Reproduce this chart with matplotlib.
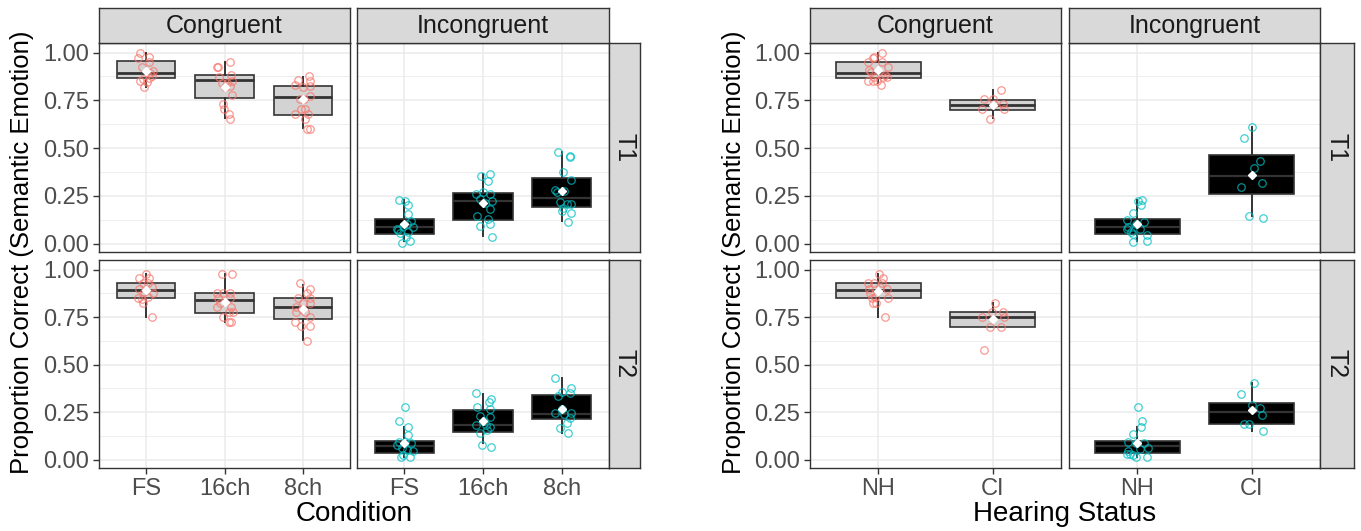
import matplotlib
matplotlib.use("Agg")
import matplotlib.pyplot as plt

plt.rcParams['font.family'] = ['Liberation Sans', 'DejaVu Sans']

W, H = 1361, 531

cond_labels = ["FS", "16ch", "8ch"]
hear_labels = ["NH", "CI"]
col_names = ["Congruent", "Incongruent"]
row_names = ["T1", "T2"]

# box stats per category: whislo, q1, median, q3, whishi
cond_cong_t1_box = [[0.822, 0.869, 0.892, 0.955, 1.0], [0.656, 0.764, 0.855, 0.883, 0.951], [0.606, 0.675, 0.766, 0.827, 0.874]]
cond_incong_t1_box = [[0.014, 0.051, 0.086, 0.131, 0.227], [0.040, 0.122, 0.225, 0.264, 0.363], [0.119, 0.194, 0.237, 0.344, 0.480]]
cond_cong_t2_box = [[0.752, 0.848, 0.890, 0.927, 0.976], [0.726, 0.774, 0.839, 0.878, 0.976], [0.629, 0.741, 0.801, 0.850, 0.921]]
cond_incong_t2_box = [[0.014, 0.035, 0.070, 0.101, 0.175], [0.087, 0.147, 0.185, 0.264, 0.346], [0.140, 0.213, 0.241, 0.341, 0.428]]
hear_cong_t1_box = [[0.843, 0.869, 0.892, 0.953, 1.0], [0.656, 0.700, 0.728, 0.754, 0.803]]
hear_incong_t1_box = [[0.014, 0.049, 0.086, 0.131, 0.227], [0.145, 0.258, 0.354, 0.464, 0.611]]
hear_cong_t2_box = [[0.752, 0.848, 0.890, 0.927, 0.976], [0.699, 0.699, 0.752, 0.776, 0.825]]
hear_incong_t2_box = [[0.014, 0.035, 0.070, 0.101, 0.175], [0.149, 0.187, 0.253, 0.301, 0.402]]

# group means (white diamonds)
cond_cong_t1_mean = [0.905, 0.822, 0.759]
cond_incong_t1_mean = [0.101, 0.211, 0.274]
cond_cong_t2_mean = [0.890, 0.827, 0.790]
cond_incong_t2_mean = [0.087, 0.205, 0.266]
hear_cong_t1_mean = [0.909, 0.724]
hear_incong_t1_mean = [0.101, 0.360]
hear_cong_t2_mean = [0.888, 0.738]
hear_incong_t2_mean = [0.087, 0.263]

# individual scores
cond_cong_t1_pts = [
    [1.0, 0.974, 0.979, 0.951, 0.927, 0.904, 0.895, 0.878, 0.852, 0.86, 0.869, 0.822, 0.846],
    [0.953, 0.927, 0.925, 0.881, 0.874, 0.852, 0.843, 0.825, 0.822, 0.777, 0.729, 0.703, 0.677, 0.651, 0.843],
    [0.880, 0.852, 0.855, 0.825, 0.829, 0.822, 0.775, 0.756, 0.759, 0.703, 0.703, 0.677, 0.677, 0.651, 0.602, 0.602],
]
cond_cong_t1_jit = [
    [-0.077, -0.098, 0.038, 0.038, -0.056, 0.085, 0.051, 0.073, -0.077, -0.043, 0.043, -0.026, 0.009],
    [0.073, -0.098, -0.077, 0.081, -0.064, 0.094, -0.034, 0.064, 0.0, 0.094, -0.021, -0.004, 0.051, 0.073, 0.030],
    [0.077, 0.085, -0.064, 0.085, -0.098, 0.0, 0.094, -0.043, 0.013, -0.021, 0.021, -0.098, 0.064, 0.021, 0.051, 0.085],
]
cond_incong_t1_pts = [
    [0.227, 0.223, 0.202, 0.157, 0.119, 0.106, 0.087, 0.070, 0.058, 0.063, 0.037, 0.017, 0.005, 0.075, 0.092],
    [0.354, 0.366, 0.328, 0.258, 0.271, 0.258, 0.236, 0.223, 0.215, 0.183, 0.145, 0.127, 0.092, 0.101, 0.037],
    [0.482, 0.459, 0.454, 0.375, 0.333, 0.281, 0.271, 0.276, 0.218, 0.206, 0.206, 0.188, 0.162, 0.171, 0.113],
]
cond_incong_t1_jit = [
    [-0.064, 0.009, 0.051, 0.051, 0.081, 0.030, 0.107, -0.077, -0.056, 0.051, 0.021, 0.073, -0.026, -0.098, -0.013],
    [-0.026, 0.085, 0.064, -0.085, 0.0, 0.094, -0.043, 0.115, 0.030, 0.085, -0.077, 0.060, -0.034, 0.094, 0.115],
    [-0.047, 0.103, 0.107, 0.013, 0.115, -0.090, -0.064, 0.030, -0.021, 0.064, 0.115, 0.021, 0.115, 0.009, 0.081],
]
cond_cong_t2_pts = [
    [0.979, 0.953, 0.953, 0.927, 0.927, 0.900, 0.906, 0.878, 0.883, 0.851, 0.857, 0.843, 0.825, 0.752],
    [0.976, 0.976, 0.878, 0.878, 0.878, 0.848, 0.848, 0.825, 0.801, 0.801, 0.778, 0.778, 0.752, 0.726, 0.726],
    [0.927, 0.900, 0.878, 0.851, 0.851, 0.825, 0.825, 0.801, 0.790, 0.778, 0.778, 0.752, 0.726, 0.703, 0.703, 0.626],
]
cond_cong_t2_jit = [
    [0.0, -0.085, 0.043, -0.034, 0.030, -0.085, 0.073, 0.085, -0.026, -0.098, 0.030, -0.056, -0.034, 0.073],
    [-0.034, 0.094, -0.098, -0.021, 0.064, -0.077, 0.073, -0.056, 0.081, -0.090, 0.051, 0.107, -0.013, 0.051, 0.081],
    [-0.043, 0.085, 0.051, -0.064, 0.085, 0.0, 0.085, -0.085, -0.009, -0.094, 0.021, 0.085, -0.107, -0.021, 0.094, 0.051],
]
cond_incong_t2_pts = [
    [0.276, 0.206, 0.175, 0.131, 0.091, 0.087, 0.091, 0.079, 0.061, 0.044, 0.052, 0.026, 0.017, 0.017],
    [0.350, 0.318, 0.306, 0.276, 0.266, 0.231, 0.227, 0.206, 0.184, 0.184, 0.170, 0.143, 0.157, 0.079, 0.066],
    [0.432, 0.358, 0.376, 0.350, 0.336, 0.266, 0.245, 0.245, 0.240, 0.219, 0.196, 0.166, 0.140],
]
cond_incong_t2_jit = [
    [0.009, -0.068, 0.051, 0.051, -0.064, 0.081, 0.009, -0.098, -0.034, 0.107, 0.030, -0.021, 0.073, -0.047],
    [-0.090, 0.103, 0.073, -0.077, 0.085, -0.034, 0.085, 0.009, -0.085, 0.043, 0.094, -0.043, 0.051, -0.013, 0.103],
    [-0.085, 0.0, 0.115, 0.107, -0.047, 0.009, -0.090, 0.115, 0.030, 0.107, 0.073, -0.021, 0.081],
]

hear_cong_t1_pts = [
    [1.0, 0.979, 0.974, 0.951, 0.951, 0.927, 0.908, 0.899, 0.881, 0.874, 0.874, 0.874, 0.852, 0.852, 0.852, 0.829],
    [0.805, 0.756, 0.756, 0.730, 0.730, 0.703, 0.703, 0.654],
]
hear_cong_t1_jit = [
    [0.035, -0.038, -0.050, -0.088, 0.029, 0.088, -0.079, -0.067, 0.058, 0.079, -0.038, 0.038, -0.088, -0.044, -0.015, 0.023],
    [0.070, -0.073, 0.0, 0.015, 0.088, -0.096, 0.099, -0.023],
]
hear_incong_t1_pts = [
    [0.223, 0.229, 0.202, 0.159, 0.124, 0.115, 0.101, 0.087, 0.075, 0.075, 0.061, 0.049, 0.045, 0.009, 0.014],
    [0.611, 0.555, 0.433, 0.394, 0.316, 0.297, 0.145, 0.133],
]
hear_incong_t1_jit = [
    [0.003, 0.038, 0.032, -0.041, -0.088, 0.053, -0.012, -0.079, 0.023, -0.094, -0.058, -0.035, 0.088, -0.041, 0.082],
    [0.003, -0.070, 0.076, 0.023, 0.091, -0.094, -0.020, 0.099],
]
hear_cong_t2_pts = [
    [0.979, 0.953, 0.927, 0.927, 0.927, 0.900, 0.900, 0.874, 0.857, 0.848, 0.825, 0.825, 0.752, 0.851, 0.909],
    [0.825, 0.776, 0.776, 0.752, 0.752, 0.699, 0.699, 0.577],
]
hear_cong_t2_jit = [
    [0.006, 0.038, 0.029, -0.088, -0.038, -0.082, 0.079, -0.073, -0.029, 0.088, -0.050, -0.020, 0.053, -0.058, 0.015],
    [0.023, -0.006, 0.088, -0.096, 0.099, -0.023, 0.070, -0.073],
]
hear_incong_t2_pts = [
    [0.276, 0.206, 0.175, 0.135, 0.093, 0.087, 0.087, 0.056, 0.061, 0.044, 0.031, 0.026, 0.014, 0.017, 0.031],
    [0.402, 0.344, 0.288, 0.271, 0.236, 0.187, 0.187, 0.149],
]
hear_incong_t2_jit = [
    [0.009, 0.038, 0.032, -0.041, -0.085, 0.053, -0.012, 0.023, 0.091, -0.079, -0.064, -0.035, -0.012, 0.082, -0.094],
    [0.023, -0.091, 0.003, 0.076, 0.091, -0.070, -0.018, 0.099],
]

cong_color = "#F8766D"
incong_color = "#00BFC4"
grid_col = "#EBEBEB"
edge_col = "#333333"


def px_axes(fig, x0, y0, x1, y1):
    return fig.add_axes([x0 / W, 1 - y1 / H, (x1 - x0) / W, (y1 - y0) / H])


def draw_panel(ax, labels, box, means, pts, jit, congruent, show_x, show_y):
    n = len(labels)
    pos = list(range(1, n + 1))
    ax.set_xlim(0.4, n + 0.6)
    ax.set_ylim(-0.043, 1.05)
    ax.set_yticks([0, 0.25, 0.5, 0.75, 1.0])
    ax.set_yticks([0.125, 0.375, 0.625, 0.875], minor=True)
    ax.set_xticks(pos)
    ax.grid(True, which="major", color=grid_col, lw=1.1, zorder=0)
    ax.grid(True, which="minor", axis="y", color=grid_col, lw=0.6, zorder=0)
    ax.set_axisbelow(True)
    for s in ax.spines.values():
        s.set_color(edge_col)
        s.set_linewidth(1.0)

    stats = []
    for lab, b in zip(labels, box):
        stats.append(dict(label=lab, whislo=b[0], q1=b[1], med=b[2], q3=b[3], whishi=b[4], fliers=[]))
    fill = "#D3D3D3" if congruent else "black"
    ax.bxp(stats, positions=pos, widths=0.75, patch_artist=True, showcaps=False,
           boxprops=dict(facecolor=fill, edgecolor=edge_col, lw=1.2),
           medianprops=dict(color=edge_col, lw=2.0 if congruent else 1.6),
           whiskerprops=dict(color=edge_col, lw=1.4),
           manage_ticks=False, zorder=2)

    col = cong_color if congruent else incong_color
    for p, vals, dx in zip(pos, pts, jit):
        ax.plot([p + d for d in dx], vals, "o", mfc="none", mec=col, ms=5.4, mew=0.9,
                alpha=0.75, zorder=3)
    ax.plot(pos, means, "D", color="white", ms=4.5, mec="white", zorder=4)

    ax.tick_params(axis="both", which="major", length=4, width=1, color=edge_col,
                   labelsize=17, labelcolor="#4D4D4D", pad=3)
    ax.tick_params(which="minor", length=0)
    if show_x:
        ax.set_xticklabels(labels)
    else:
        ax.tick_params(axis="x", length=0, labelbottom=False)
    if show_y:
        ax.set_yticklabels(["0.00", "0.25", "0.50", "0.75", "1.00"])
    else:
        ax.tick_params(axis="y", length=0, labelleft=False)


def strip(fig, x0, y0, x1, y1, text, rot=0):
    s = px_axes(fig, x0, y0, x1, y1)
    s.set_facecolor("#D9D9D9")
    s.set_xticks([])
    s.set_yticks([])
    for sp in s.spines.values():
        sp.set_color(edge_col)
        sp.set_linewidth(1.0)
    s.text(0.5, 0.5, text, ha="center", va="center", rotation=rot,
           fontsize=18, color="#1A1A1A", transform=s.transAxes)


fig = plt.figure(figsize=(W / 100, H / 100), dpi=100)

rows_px = [(43, 252), (260, 468)]
layouts = [
    dict(cols=[(99, 350), (357, 609)], rstrip=(609, 640), labels=cond_labels,
         box=[[cond_cong_t1_box, cond_incong_t1_box], [cond_cong_t2_box, cond_incong_t2_box]],
         means=[[cond_cong_t1_mean, cond_incong_t1_mean], [cond_cong_t2_mean, cond_incong_t2_mean]],
         pts=[[cond_cong_t1_pts, cond_incong_t1_pts], [cond_cong_t2_pts, cond_incong_t2_pts]],
         jit=[[cond_cong_t1_jit, cond_incong_t1_jit], [cond_cong_t2_jit, cond_incong_t2_jit]],
         xlabel="Condition", ylab_x=22),
    dict(cols=[(810, 1061), (1069, 1320)], rstrip=(1320, 1354), labels=hear_labels,
         box=[[hear_cong_t1_box, hear_incong_t1_box], [hear_cong_t2_box, hear_incong_t2_box]],
         means=[[hear_cong_t1_mean, hear_incong_t1_mean], [hear_cong_t2_mean, hear_incong_t2_mean]],
         pts=[[hear_cong_t1_pts, hear_incong_t1_pts], [hear_cong_t2_pts, hear_incong_t2_pts]],
         jit=[[hear_cong_t1_jit, hear_incong_t1_jit], [hear_cong_t2_jit, hear_incong_t2_jit]],
         xlabel="Hearing Status", ylab_x=734),
]

for lay in layouts:
    for r, (y0, y1) in enumerate(rows_px):
        for c, (x0, x1) in enumerate(lay["cols"]):
            ax = px_axes(fig, x0, y0, x1, y1)
            draw_panel(ax, lay["labels"], lay["box"][r][c], lay["means"][r][c],
                       lay["pts"][r][c], lay["jit"][r][c], c == 0,
                       show_x=(r == 1), show_y=(c == 0))
        strip(fig, lay["rstrip"][0], y0, lay["rstrip"][1], y1, row_names[r], rot=-90)
    for c, (x0, x1) in enumerate(lay["cols"]):
        strip(fig, x0, 8, x1, 43, col_names[c])
    xc = (lay["cols"][0][0] + lay["cols"][1][1]) / 2
    fig.text(xc / W, 1 - 514 / H, lay["xlabel"], ha="center", va="center", fontsize=20, color="black")
    fig.text(lay["ylab_x"] / W, 1 - 252 / H, "Proportion Correct (Semantic Emotion)",
             ha="center", va="center", rotation=90, fontsize=18.5, color="black")

fig.savefig("out.png", dpi=100)
